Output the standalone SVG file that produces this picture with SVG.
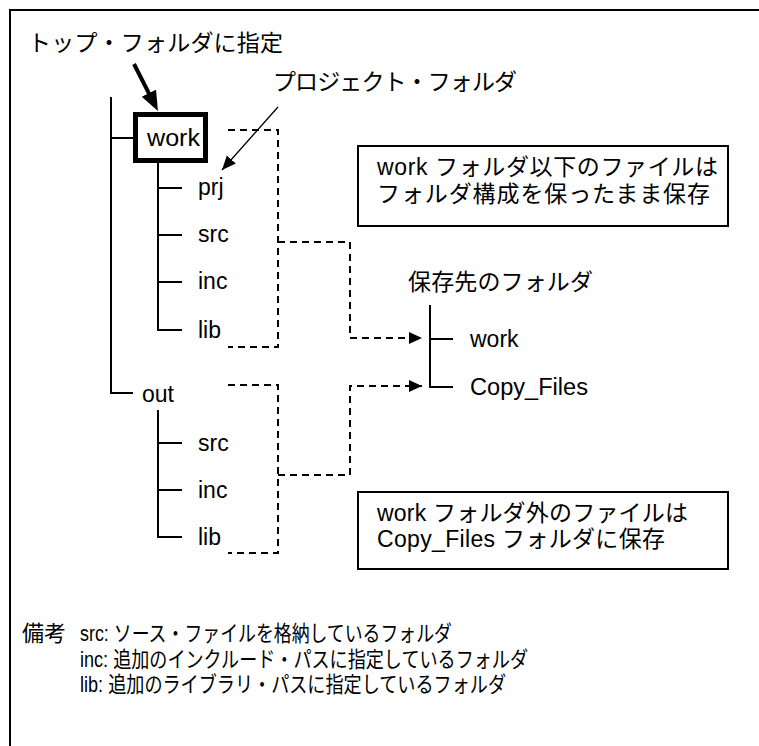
<svg xmlns="http://www.w3.org/2000/svg" width="759" height="746" viewBox="0 0 759 746">
<style>
  text { font-family: "Liberation Sans", "Noto Sans CJK JP", sans-serif; fill: #000; }
  .jp { font-size: 23px; }
  .lbl { font-size: 23px; }
  .note { font-size: 22px; }
  .tree { fill: none; stroke: #000; stroke-width: 2; }
  .dash { fill: none; stroke: #000; stroke-width: 2; stroke-dasharray: 7 5; }
  .box { fill: #fff; stroke: #000; stroke-width: 2; }
</style>
<defs>
  <marker id="thick" markerUnits="userSpaceOnUse" markerWidth="22" markerHeight="18" refX="4" refY="8" orient="auto">
    <path d="M0,0 L20,8 L0,16 z" fill="#000"/>
  </marker>
  <marker id="thin" markerUnits="userSpaceOnUse" markerWidth="16" markerHeight="14" refX="14" refY="6" orient="auto">
    <path d="M0,0 L14,6 L0,12 z" fill="#000"/>
  </marker>
  <marker id="dashArrow" markerUnits="userSpaceOnUse" markerWidth="15" markerHeight="14" refX="13" refY="6" orient="auto">
    <path d="M0,0 L13,6 L0,12 z" fill="#000"/>
  </marker>
</defs>
<rect x="0" y="0" width="759" height="746" fill="#fff"/>
<path d="M10,746 V10 H759" fill="none" stroke="#000" stroke-width="2"/>

<g id="label-top">
  <text class="jp" x="28" y="51" textLength="255">トップ・フォルダに指定</text>
</g>
<g id="label-project">
  <text class="jp" x="273" y="90" textLength="244">プロジェクト・フォルダ</text>
</g>

<g id="tree-lines">
  <path class="tree" d="M111,97 V393 H133 M111,138 H133"/>
  <path class="tree" d="M158,161 V330 H182 M158,188 H182 M158,235 H182 M158,282 H182"/>
  <path class="tree" d="M158,410 V537 H182 M158,443 H182 M158,490 H182"/>
  <path class="tree" d="M430,305 V387 H453 M430,339 H453"/>
</g>

<g id="node-work">
  <rect x="135.5" y="114.5" width="70" height="46" fill="#fff" stroke="#000" stroke-width="5"/>
  <text class="lbl" x="147" y="146" textLength="53" lengthAdjust="spacingAndGlyphs">work</text>
</g>
<g id="node-prj"><text class="lbl" x="198" y="195">prj</text></g>
<g id="node-src1"><text class="lbl" x="198" y="242">src</text></g>
<g id="node-inc1"><text class="lbl" x="198" y="289">inc</text></g>
<g id="node-lib1"><text class="lbl" x="198" y="338">lib</text></g>
<g id="node-out"><text class="lbl" x="142" y="402">out</text></g>
<g id="node-src2"><text class="lbl" x="198" y="451">src</text></g>
<g id="node-inc2"><text class="lbl" x="198" y="498">inc</text></g>
<g id="node-lib2"><text class="lbl" x="198" y="545">lib</text></g>

<g id="node-dest">
  <text class="jp" x="408" y="290" textLength="185">保存先のフォルダ</text>
</g>
<g id="node-dest-work"><text class="lbl" x="470" y="347">work</text></g>
<g id="node-dest-copy"><text class="lbl" x="470" y="395" textLength="118" lengthAdjust="spacingAndGlyphs">Copy_Files</text></g>

<g id="note-box1">
  <rect class="box" x="358" y="146" width="370" height="80"/>
  <text class="jp" x="377" y="175" textLength="341">work フォルダ以下のファイルは</text>
  <text class="jp" x="377" y="202" textLength="333">フォルダ構成を保ったまま保存</text>
</g>
<g id="note-box2">
  <rect class="box" x="358" y="492" width="370" height="77"/>
  <text class="jp" x="377" y="521" textLength="311">work フォルダ外のファイルは</text>
  <text class="jp" x="377" y="547" textLength="288">Copy_Files フォルダに保存</text>
</g>

<g id="connectors">
  <line x1="134" y1="64" x2="150.7" y2="96.8" stroke="#000" stroke-width="4" marker-end="url(#thick)"/>
  <line x1="278" y1="107" x2="222" y2="170" stroke="#000" stroke-width="1.3" marker-end="url(#thin)"/>
  <path class="dash" d="M228,130 H278 V347 H228"/>
  <path class="dash" d="M228,385 H278 V553 H228"/>
  <path class="dash" d="M278,242 H350 V338 H422" marker-end="url(#dashArrow)"/>
  <path class="dash" d="M278,475 H350 V386 H422" marker-end="url(#dashArrow)"/>
</g>

<g id="remarks">
  <text class="note" x="22" y="641">備考</text>
  <text class="note" x="80" y="641" textLength="372" lengthAdjust="spacingAndGlyphs">src: ソース・ファイルを格納しているフォルダ</text>
  <text class="note" x="80" y="667" textLength="448" lengthAdjust="spacingAndGlyphs">inc: 追加のインクルード・パスに指定しているフォルダ</text>
  <text class="note" x="80" y="692" textLength="426" lengthAdjust="spacingAndGlyphs">lib: 追加のライブラリ・パスに指定しているフォルダ</text>
</g>
</svg>
